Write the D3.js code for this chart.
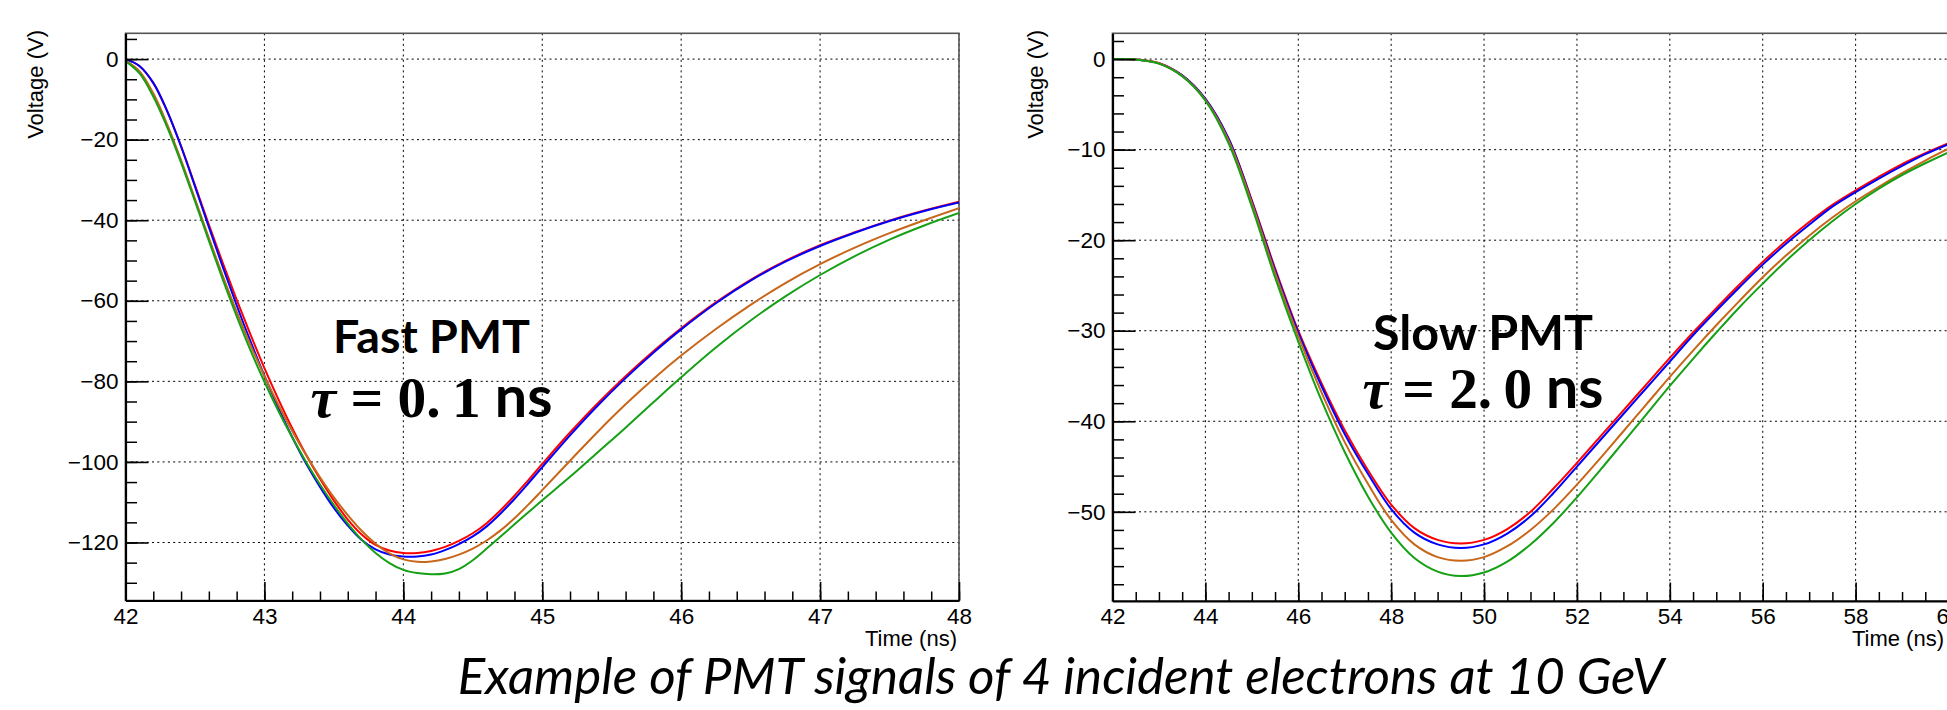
<!DOCTYPE html>
<html>
<head>
<meta charset="utf-8">
<script src="https://cdn.jsdelivr.net/npm/d3@7"></script>
<style>
  body { margin: 0; background: #fff; }
  svg { display: block; }
</style>
</head>
<body>
<svg id="chart" width="1947" height="710"></svg>
<script>
// PMT pulse shapes, fast (tau = 0.1 ns) vs slow (tau = 2.0 ns), four electrons each.

// ---- fast PMT (ns, V) ----
const fastTime = [42.0, 42.1, 42.2, 42.3, 42.4, 42.5, 42.6, 42.7, 42.8, 42.9,
  43.0, 43.1, 43.2, 43.3, 43.4, 43.5, 43.6, 43.7, 43.8, 43.9,
  44.0, 44.1, 44.2, 44.3, 44.4, 44.5, 44.6, 44.7, 44.8, 44.9,
  45.0, 45.2, 45.4, 45.6, 45.8, 46.0, 46.25, 46.5, 46.75, 47.0, 47.25, 47.5, 47.75, 48.0];
const fastRed = [0, -1.7, -5.9, -12.9, -21.6, -31.3, -41.1, -50.6, -59.7, -68.4,
  -76.7, -84.4, -91.6, -98.2, -104.2, -109.6, -114.3, -118.0, -120.6, -122.0,
  -122.6, -122.6, -122.1, -121.1, -119.6, -117.7, -115.2, -112.0, -108.4, -104.5,
  -100.5, -92.7, -85.4, -78.7, -72.5, -66.8, -60.4, -54.8, -50.1, -46.2, -43.0, -40.1, -37.6, -35.4];
const fastBlue = [0, -1.7, -5.9, -12.9, -21.7, -31.6, -41.7, -51.6, -61.1, -70.1,
  -78.6, -86.5, -93.8, -100.4, -106.2, -111.4, -115.8, -119.4, -121.7, -123.0,
  -123.5, -123.5, -123.0, -121.9, -120.4, -118.5, -116.0, -112.8, -109.2, -105.3,
  -101.3, -93.4, -86.0, -79.2, -72.9, -67.1, -60.6, -55.0, -50.3, -46.4, -43.1, -40.2, -37.7, -35.6];
const fastOrange = [-0.4, -3.0, -8.5, -16.2, -25.1, -34.7, -44.4, -53.8, -62.7, -71.0,
  -78.7, -85.8, -92.3, -98.3, -103.8, -108.8, -113.2, -117.1, -120.3, -122.7,
  -124.2, -124.8, -124.7, -124.1, -123.0, -121.5, -119.5, -117.0, -114.0, -110.6,
  -107.0, -99.7, -92.5, -85.7, -79.4, -73.6, -67.0, -61.0, -55.6, -50.9, -46.8, -43.2, -40.0, -37.0];
const fastGreen = [-0.5, -3.5, -9.3, -16.9, -25.7, -35.3, -45.1, -54.7, -63.8, -72.3,
  -80.1, -87.3, -93.9, -100.0, -105.6, -110.7, -115.3, -119.3, -122.6, -125.1,
  -126.8, -127.6, -127.9, -127.7, -126.6, -124.4, -121.5, -118.5, -115.5, -112.5,
  -109.5, -103.7, -97.6, -91.5, -85.2, -79.0, -71.6, -64.9, -58.9, -53.6, -48.9, -44.8, -41.3, -38.2];

// ---- slow PMT (ns, V) ----
const slowTime = [42.0, 42.5, 43.0, 43.5, 44.0, 44.5, 45.0, 45.5, 46.0, 46.5,
  47.0, 47.5, 48.0, 48.5, 49.0, 49.5, 50.0, 50.5, 51.0, 51.5,
  52.0, 52.5, 53.0, 53.5, 54.0, 54.5, 55.0, 55.5, 56.0, 56.5,
  57.0, 57.5, 58.0, 58.5, 59.0, 59.5, 60.0];
const slowRed = [0, -0.05, -0.45, -1.8, -4.4, -8.8, -15.6, -23.1, -30.0, -35.8,
  -41.0, -45.4, -49.2, -51.8, -53.1, -53.5, -53.1, -51.9, -50.0, -47.4,
  -44.6, -41.7, -38.8, -35.9, -33.0, -30.2, -27.5, -24.9, -22.4, -20.1,
  -18.0, -16.1, -14.5, -13.0, -11.6, -10.4, -9.3];
const slowBlue = [0, -0.05, -0.45, -1.8, -4.4, -8.8, -15.7, -23.3, -30.2, -36.1,
  -41.4, -45.8, -49.7, -52.3, -53.6, -54.0, -53.6, -52.4, -50.5, -47.9,
  -45.0, -42.1, -39.2, -36.3, -33.4, -30.5, -27.8, -25.2, -22.7, -20.4,
  -18.3, -16.3, -14.7, -13.2, -11.8, -10.5, -9.4];
const slowOrange = [0, -0.05, -0.45, -1.85, -4.5, -9.0, -15.9, -23.6, -30.6, -36.8,
  -42.3, -46.9, -50.9, -53.6, -55.0, -55.4, -55.0, -53.8, -52.0, -49.7,
  -47.0, -44.1, -41.1, -38.1, -35.1, -32.2, -29.4, -26.7, -24.1, -21.7,
  -19.5, -17.5, -15.7, -14.1, -12.6, -11.2, -9.9];
const slowGreen = [0, -0.05, -0.5, -1.9, -4.6, -9.3, -16.3, -24.1, -31.2, -37.7,
  -43.4, -48.3, -52.3, -55.1, -56.6, -57.1, -56.7, -55.5, -53.6, -51.2,
  -48.4, -45.4, -42.3, -39.2, -36.1, -33.1, -30.2, -27.4, -24.8, -22.3,
  -20.0, -17.9, -16.0, -14.3, -12.8, -11.5, -10.3];

// ---- ticks ----
const fastXTicks = [42, 43, 44, 45, 46, 47, 48];
const fastYTicks = [0, -20, -40, -60, -80, -100, -120];
const slowXTicks = [42, 44, 46, 48, 50, 52, 54, 56, 58, 60];
const slowYTicks = [0, -10, -20, -30, -40, -50];

const seriesColors = ["#ff0000", "#0000ff", "#c8661a", "#15a015"];
const AXIS_FONT = "'Liberation Sans', Arial, Helvetica, sans-serif";

const svg = d3.select("#chart");

const panels = [
  {
    id: "fast", left: 125.5, right: 959, top: 33.3, bottom: 600.5,
    xDomain: [42, 48], yDomain: [-134.4, 6.4],
    xTicks: fastXTicks, yTicks: fastYTicks, xMinor: 0.2, yMinor: 5,
    time: fastTime, series: [fastRed, fastBlue, fastOrange, fastGreen],
    ylabX: 43, xlabX: 957,
  },
  {
    id: "slow", left: 1112.5, right: 1948.5, top: 33.3, bottom: 601,
    xDomain: [42, 60], yDomain: [-59.85, 2.85],
    xTicks: slowXTicks, yTicks: slowYTicks, xMinor: 0.5, yMinor: 2,
    time: slowTime, series: [slowRed, slowBlue, slowOrange, slowGreen],
    ylabX: 1043, xlabX: 1944,
  },
];

function drawPanel(p) {
  const x = d3.scaleLinear().domain(p.xDomain).range([p.left, p.right]);
  const y = d3.scaleLinear().domain(p.yDomain).range([p.bottom, p.top]);
  const g = svg.append("g").attr("class", p.id);

  // dotted grid at major ticks
  const grid = g.append("g").attr("stroke", "#000").attr("stroke-width", 1)
    .attr("stroke-dasharray", "2,3.3");
  grid.selectAll("line.gx").data(p.xTicks).join("line").attr("class", "gx")
    .attr("x1", (d) => x(d)).attr("x2", (d) => x(d))
    .attr("y1", p.top).attr("y2", p.bottom);
  grid.selectAll("line.gy").data(p.yTicks).join("line").attr("class", "gy")
    .attr("x1", p.left).attr("x2", p.right)
    .attr("y1", (d) => y(d)).attr("y2", (d) => y(d));

  // frame (top/right thinner, axes draw left/bottom)
  g.append("rect")
    .attr("x", p.left).attr("y", p.top)
    .attr("width", p.right - p.left).attr("height", p.bottom - p.top)
    .attr("fill", "none").attr("stroke", "#555").attr("stroke-width", 1.6);

  // curves
  g.append("clipPath").attr("id", "clip-" + p.id).append("rect")
    .attr("x", p.left).attr("y", p.top)
    .attr("width", p.right - p.left).attr("height", p.bottom - p.top);
  const line = d3.line()
    .x((d, i) => x(p.time[i]))
    .y((d) => y(d))
    .curve(d3.curveCatmullRom.alpha(0.5));
  g.append("g").attr("clip-path", `url(#clip-${p.id})`)
    .selectAll("path").data(p.series).join("path")
    .attr("d", line)
    .attr("fill", "none")
    .attr("stroke", (d, i) => seriesColors[i])
    .attr("stroke-width", 2);

  // minor ticks
  const [x0, x1] = p.xDomain;
  const [y0, y1] = p.yDomain;
  const xMinor = d3.range(Math.ceil(x0 / p.xMinor) * p.xMinor, x1 + 1e-9, p.xMinor);
  const yMinor = d3.range(Math.ceil(y0 / p.yMinor) * p.yMinor, y1 + 1e-9, p.yMinor);
  g.append("g").attr("transform", `translate(0,${p.bottom})`)
    .call(d3.axisBottom(x).tickValues(xMinor).tickSize(-9).tickSizeOuter(0).tickFormat(""))
    .call((a) => a.select(".domain").remove())
    .selectAll("line").attr("stroke-width", 1.5);
  g.append("g").attr("transform", `translate(${p.left},0)`)
    .call(d3.axisLeft(y).tickValues(yMinor).tickSize(-11.5).tickSizeOuter(0).tickFormat(""))
    .call((a) => a.select(".domain").remove())
    .selectAll("line").attr("stroke-width", 1.5);

  // major ticks + labels
  const xa = g.append("g").attr("transform", `translate(0,${p.bottom})`)
    .call(d3.axisBottom(x).tickValues(p.xTicks).tickSize(-18.5).tickSizeOuter(0)
      .tickFormat(d3.format("d")));
  const ya = g.append("g").attr("transform", `translate(${p.left},0)`)
    .call(d3.axisLeft(y).tickValues(p.yTicks).tickSize(-23).tickSizeOuter(0)
      .tickPadding(7).tickFormat(d3.format("d")));
  for (const a of [xa, ya]) {
    a.attr("font-family", AXIS_FONT).attr("font-size", 22.5);
    a.select(".domain").attr("stroke", "#000").attr("stroke-width", 2.2);
    a.selectAll(".tick line").attr("stroke-width", 1.6);
    a.selectAll(".tick text").attr("fill", "#000");
  }
  xa.selectAll(".tick text").attr("y", 23).attr("dy", 0);

  // axis titles
  g.append("text")
    .attr("x", p.xlabX).attr("y", 645.5)
    .attr("text-anchor", "end")
    .attr("font-family", AXIS_FONT).attr("font-size", 22)
    .text("Time (ns)");
  g.append("text")
    .attr("transform", `translate(${p.ylabX},30) rotate(-90)`)
    .attr("text-anchor", "end")
    .attr("font-family", AXIS_FONT).attr("font-size", 22)
    .text("Voltage (V)");
}

panels.forEach(drawPanel);

// scale a text's font-size so its rendered width hits the target
function fitWidth(text, target) {
  const w = text.node().getBBox().width;
  const fs = parseFloat(text.attr("font-size"));
  text.attr("font-size", (fs * target) / w);
}

const SERIF = "'Liberation Serif', 'DejaVu Serif', serif";
const SANS_BOLD = "Lato, 'Open Sans', sans-serif";

function annotate(cx, title, titleY, titleW, value, tauY, tauW) {
  const t = svg.append("text")
    .attr("x", cx).attr("y", titleY).attr("text-anchor", "middle")
    .attr("font-family", SANS_BOLD).attr("font-weight", 700).attr("font-size", 46)
    .text(title);
  fitWidth(t, titleW);

  const [ip, fp] = value.split(".");
  const m = svg.append("text")
    .attr("x", cx).attr("y", tauY).attr("text-anchor", "middle")
    .attr("font-size", 46).attr("font-weight", 700);
  m.append("tspan").attr("font-family", SERIF).attr("font-style", "italic").text("τ");
  m.append("tspan").attr("font-family", SERIF).text(" = " + ip + ".");
  m.append("tspan").attr("font-family", SERIF).attr("dx", "0.2em").text(fp);
  m.append("tspan").attr("font-family", SANS_BOLD).text(" ns");
  fitWidth(m, tauW);
}

annotate(431.5, "Fast PMT", 353, 197, "0.1", 416.5, 242);
annotate(1483, "Slow PMT", 350, 220, "2.0", 408, 241);

// caption
const cap = svg.append("text")
  .attr("x", 1061).attr("y", 694).attr("text-anchor", "middle")
  .attr("font-family", "Lato, 'Open Sans', sans-serif").attr("font-style", "italic")
  .attr("font-size", 46)
  .text("Example of PMT signals of 4 incident electrons at 10 GeV");
fitWidth(cap, 1210);
</script>
</body>
</html>
